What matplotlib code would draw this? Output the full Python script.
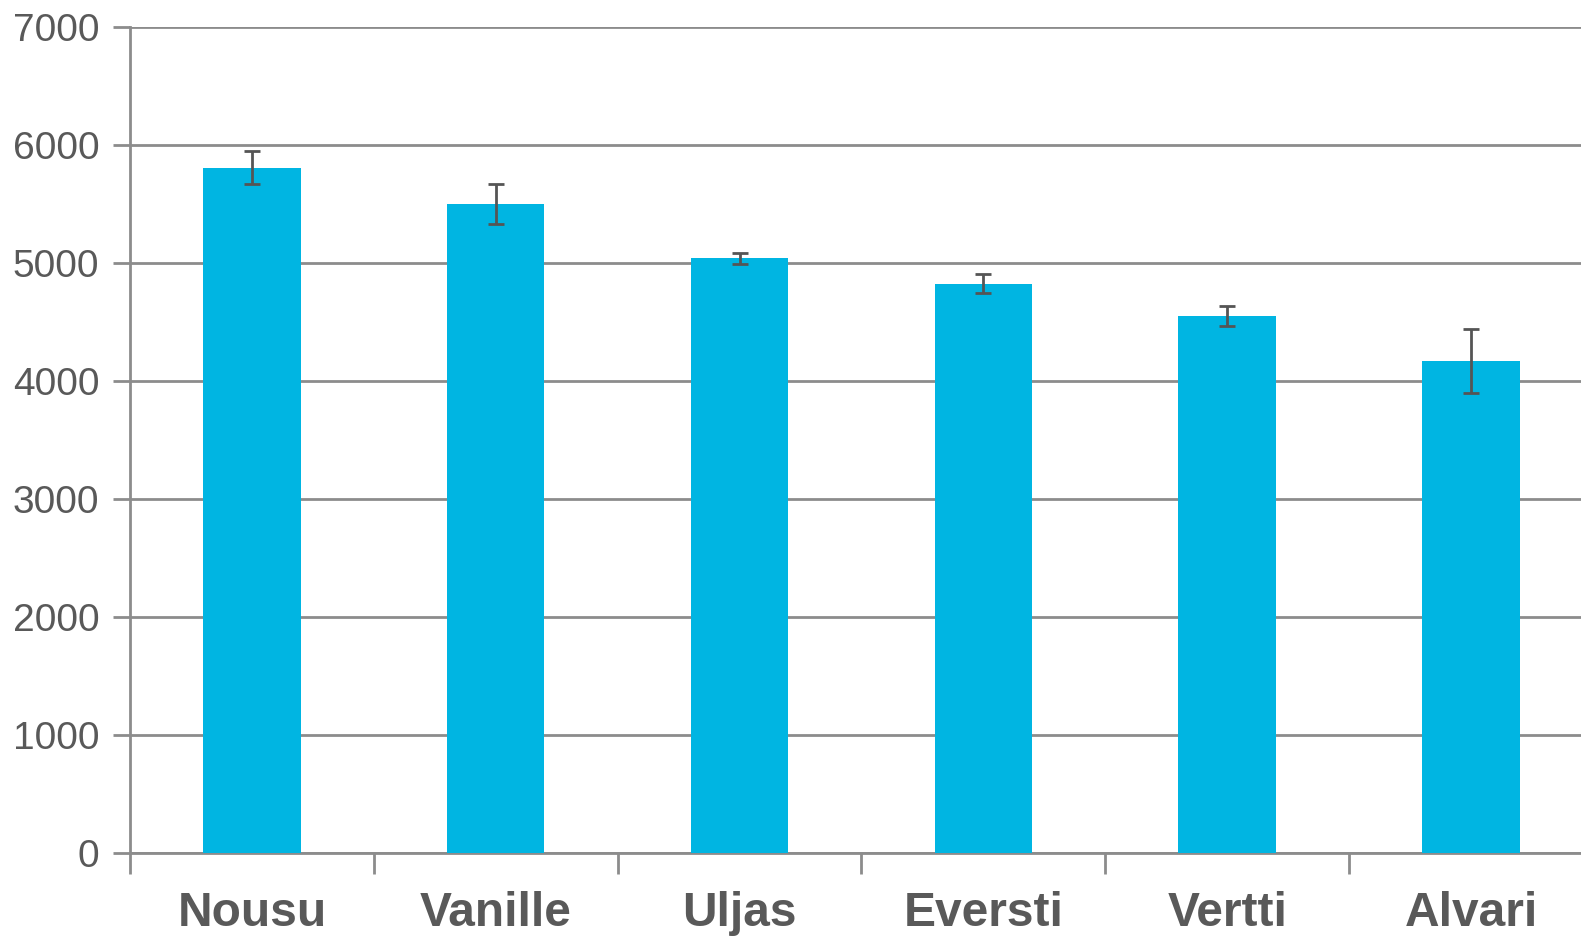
import matplotlib
matplotlib.use("Agg")
import matplotlib.pyplot as plt
import numpy as np

categories = ["Nousu", "Vanille", "Uljas", "Eversti", "Vertti", "Alvari"]
values = [5807, 5497, 5038, 4824, 4548, 4167]
errors = [140, 168, 48, 79, 85, 270]
yticks = [0, 1000, 2000, 3000, 4000, 5000, 6000, 7000]

bar_color = "#00B5E2"
text_color = "#595959"
grid_color = "#8C8C8C"

plt.rcParams['font.family'] = ['Liberation Sans', 'DejaVu Sans']

fig = plt.figure(figsize=(15.81, 9.36), dpi=100)
# the plot area runs a little past the right edge of the picture
ax = fig.add_axes([0.0822, 0.0883, 1593 / 1581 - 0.0822, 0.9715 - 0.0883])

x = np.arange(len(categories))
ax.bar(x, values, width=0.4, color=bar_color, zorder=3)
ax.errorbar(x, values, yerr=errors, fmt='none', ecolor="#555555",
            elinewidth=2, capsize=6, capthick=2, zorder=4)

ax.set_xlim(-0.5, len(categories) - 0.5)
ax.set_ylim(0, 7000)
ax.set_yticks(yticks)
ax.set_yticklabels([str(t) for t in yticks])
ax.yaxis.grid(True, color=grid_color, linewidth=2)
ax.set_axisbelow(True)

ax.set_xticks(np.arange(len(categories)) - 0.5)
ax.set_xticklabels([])
ax.set_xticks(x, minor=True)
ax.set_xticklabels(categories, minor=True, fontsize=34.5, fontweight='bold', color=text_color)
ax.tick_params(axis='x', which='minor', length=0, pad=27)
ax.tick_params(axis='x', which='major', length=15, width=2, color=grid_color)
ax.tick_params(axis='y', length=12, width=2, color=grid_color, labelsize=28,
               labelcolor=text_color, pad=10)

for side in ['top', 'right']:
    ax.spines[side].set_visible(False)
for side in ['left', 'bottom']:
    ax.spines[side].set_color(grid_color)
    ax.spines[side].set_linewidth(2)

fig.savefig("out.png", dpi=100)
